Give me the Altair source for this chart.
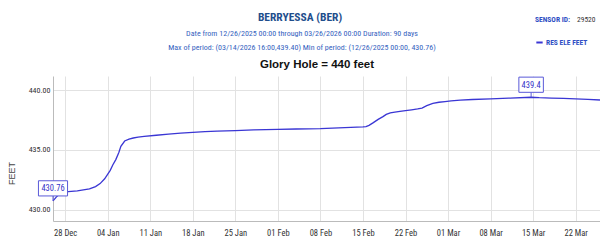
import altair as alt
import pandas as pd

# ---------------- data ----------------
times = [
    "2025-12-26T00:00", "2025-12-26T12:00", "2025-12-27T00:00", "2025-12-27T12:00",
    "2025-12-28T00:00", "2025-12-29T00:00", "2025-12-30T00:00", "2025-12-31T00:00",
    "2026-01-01T00:00", "2026-01-02T00:00", "2026-01-02T18:00", "2026-01-03T12:00",
    "2026-01-04T10:00", "2026-01-04T20:00", "2026-01-05T08:00", "2026-01-05T20:00",
    "2026-01-06T04:00", "2026-01-06T19:00", "2026-01-07T12:00", "2026-01-08T05:00",
    "2026-01-09T00:00", "2026-01-10T00:00", "2026-01-12T00:00", "2026-01-14T00:00",
    "2026-01-16T00:00", "2026-01-18T00:00", "2026-01-20T00:00", "2026-01-22T00:00",
    "2026-01-25T00:00", "2026-01-28T00:00", "2026-02-01T00:00", "2026-02-04T00:00",
    "2026-02-08T00:00", "2026-02-11T00:00", "2026-02-13T00:00", "2026-02-15T00:00",
    "2026-02-15T12:00", "2026-02-16T00:00", "2026-02-16T17:00", "2026-02-17T12:00",
    "2026-02-18T07:00", "2026-02-18T20:00", "2026-02-19T12:00", "2026-02-20T06:00",
    "2026-02-21T02:00", "2026-02-22T00:00", "2026-02-23T00:00", "2026-02-24T00:00",
    "2026-02-24T17:00", "2026-02-25T12:00", "2026-02-26T12:00", "2026-02-27T12:00",
    "2026-02-28T12:00", "2026-03-01T12:00", "2026-03-03T00:00", "2026-03-05T00:00",
    "2026-03-08T00:00", "2026-03-11T00:00", "2026-03-14T16:00", "2026-03-16T00:00",
    "2026-03-18T00:00", "2026-03-20T00:00", "2026-03-22T00:00", "2026-03-24T00:00",
    "2026-03-26T00:00",
]
values = [
    430.76, 431.05, 431.30, 431.45,
    431.50, 431.55, 431.60, 431.68,
    431.75, 431.95, 432.20, 432.60,
    433.30, 433.75, 434.20, 434.80,
    435.30, 435.75, 435.90, 436.00,
    436.07, 436.13, 436.23, 436.32,
    436.40, 436.47, 436.53, 436.57,
    436.62, 436.67, 436.72, 436.75,
    436.78, 436.84, 436.88, 436.92,
    436.95, 437.05, 437.28, 437.55,
    437.78, 437.97, 438.10, 438.16,
    438.22, 438.28, 438.35, 438.42,
    438.50, 438.70, 438.88, 438.98,
    439.04, 439.09, 439.15, 439.21,
    439.27, 439.32, 439.40, 439.36,
    439.33, 439.30, 439.27, 439.22,
    439.17,
]
series_name = "RES ELE FEET"

ann_times = ["2025-12-26T00:00", "2026-03-14T16:00"]
ann_values = [430.76, 439.4]
ann_labels = ["430.76", "439.4"]

x_tick_dates = [
    (2025, 12, 28), (2026, 1, 4), (2026, 1, 11), (2026, 1, 18), (2026, 1, 25),
    (2026, 2, 1), (2026, 2, 8), (2026, 2, 15), (2026, 2, 22), (2026, 3, 1),
    (2026, 3, 8), (2026, 3, 15), (2026, 3, 22),
]
y_ticks = [430, 435, 440]

title_text = "BERRYESSA (BER)"
line2_text = "Date from 12/26/2025 00:00 through 03/26/2026 00:00 Duration: 90 days"
line3_text = "Max of period: (03/14/2026 16:00,439.40) Min of period: (12/26/2025 00:00, 430.76)"
glory_text = "Glory Hole = 440 feet"
sensor_label = "SENSOR ID:"
sensor_id = "29520"
y_title = "FEET"

# ---------------- styles ----------------
NARROW = "Roboto Condensed, Noto Sans Condensed, Liberation Sans, Arial, sans-serif"
ARIAL = "Liberation Sans, Arial, sans-serif"
LINE_COLOR = "#3a36d4"
TITLE_BLUE = "#1f4e8c"
SUB_BLUE = "#3563c0"

df = pd.DataFrame({"time": pd.to_datetime(times), "value": values, "series": series_name})
ann = pd.DataFrame({"time": pd.to_datetime(ann_times), "value": ann_values, "label": ann_labels})

x_scale = alt.Scale(domain=[alt.DateTime(year=2025, month=12, date=26),
                            alt.DateTime(year=2026, month=3, date=26)], nice=False)
y_scale = alt.Scale(domain=[429.08, 441.17], nice=False, zero=False)

x_enc = alt.X("time:T", scale=x_scale, axis=alt.Axis(
    values=[alt.DateTime(year=y, month=m, date=d) for (y, m, d) in x_tick_dates],
    format="%d %b", title=None, ticks=False, labelFont=NARROW, labelFontSize=8.5,
    labelColor="#333333", labelPadding=7, domainColor="#bbbbbb", gridColor="#e2e2e2",
    labelFlush=False, labelOverlap=False))
y_enc = alt.Y("value:Q", scale=y_scale, axis=alt.Axis(
    values=y_ticks, format=".2f", title=y_title, ticks=False, labelFont=NARROW,
    labelFontSize=8, labelColor="#333333", labelPadding=3, domainColor="#bbbbbb",
    gridColor="#e2e2e2", titleFont=ARIAL,
    titleFontSize=9, titleFontWeight="normal", titleColor="#444444",
    titleAngle=270, titleX=-42, titleY=97, titleAlign="center", titleBaseline="middle"))

line = alt.Chart(df).mark_line(strokeWidth=1.3).encode(
    x=x_enc, y=y_enc,
    color=alt.Color("series:N", scale=alt.Scale(domain=[series_name], range=[LINE_COLOR]),
                    legend=alt.Legend(title=None, orient="none", legendX=482, legendY=-38,
                                      symbolType="stroke", symbolSize=40, symbolStrokeWidth=2,
                                      labelFont=NARROW, labelFontSize=7.5, labelFontWeight="bold",
                                      labelColor="#2f4fc4", symbolOffset=0, labelOffset=2,
                                      padding=0)),
)

layers = [line]
for i, lab in enumerate(ann_labels):
    sub = ann.iloc[[i]]
    w = 4.6 * len(lab) + 1.5
    hh = 7.6 / (w / 2)
    path = f"M-1,-{hh:.3f} L1,-{hh:.3f} L1,{hh:.3f} L-1,{hh:.3f} Z"
    stem = alt.Chart(sub).mark_rule(color="#5a5ad8", strokeWidth=1, yOffset=-5, y2Offset=0).encode(
        x="time:T", y="value:Q", y2="value:Q")
    box = alt.Chart(sub).mark_point(shape=path, size=w * w, filled=True, fill="white",
                                    stroke="#5a5ad8", strokeWidth=1, opacity=1,
                                    yOffset=-12.5).encode(x="time:T", y="value:Q")
    txt = alt.Chart(sub).mark_text(font=NARROW, fontSize=8.5, color="#3434c8", dy=-12.5,
                                   baseline="middle", align="center").encode(
        x="time:T", y="value:Q", text="label:N")
    layers += [stem, box, txt]


def header(text, x, y, size, color, weight="normal", font=NARROW, align="center"):
    return alt.Chart(pd.DataFrame({"t": [text]})).mark_text(
        font=font, fontSize=size, color=color, fontWeight=weight, align=align,
        baseline="middle").encode(x=alt.value(x), y=alt.value(y), text="t:N")


layers += [
    header(title_text, 247, -58, 11.5, TITLE_BLUE, "bold"),
    header(line2_text, 249, -42, 8, SUB_BLUE),
    header(line3_text, 249, -28, 8, SUB_BLUE),
    header(glory_text, 264, -11, 11.5, "#111111", "bold", font=ARIAL),
    header(sensor_label, 482, -56, 7.5, "#2f4fc4", "bold", align="left"),
    header(sensor_id, 524, -56, 7.5, "#333333", align="left"),
]

chart = alt.layer(*layers).properties(
    width=547, height=145,
    autosize=alt.AutoSizeParams(type="none"),
    padding={"left": 53, "top": 76, "right": 0, "bottom": 25},
    background="white",
).configure_view(stroke=None)

chart.save("out.html", embed_options={"renderer": "svg", "actions": False})
